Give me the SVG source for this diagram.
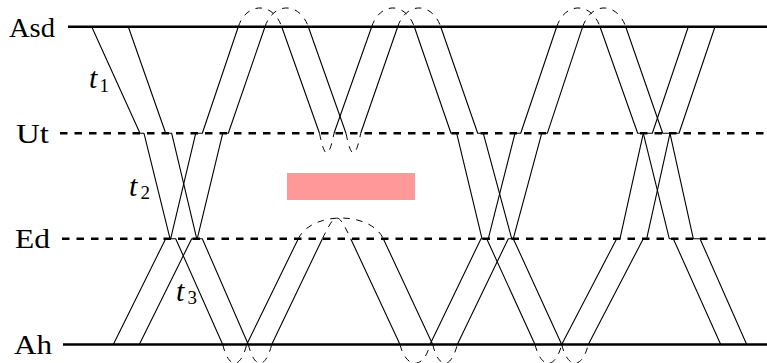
<svg xmlns="http://www.w3.org/2000/svg" width="767" height="363" viewBox="0 0 767 363">
<style>
.lbl{font-family:"Liberation Serif","Times New Roman",serif;font-size:28px;fill:#000}
.it{font-family:"Liberation Serif","Times New Roman",serif;font-style:italic;font-size:30px;fill:#000}
.sub{font-family:"Liberation Serif","Times New Roman",serif;font-size:19px;fill:#000}
.solid{stroke:#000;stroke-width:2.4;fill:none}
.dash{stroke:#000;stroke-width:2.4;fill:none;stroke-dasharray:7.5 7}
.ray{stroke:#000;stroke-width:1.1;fill:none;stroke-linejoin:round}
.arc{stroke:#000;stroke-width:1;fill:none;stroke-dasharray:6.5 6.5}
</style>
<rect width="767" height="363" fill="#fff"/>
<g id="layer-asd">
<line class="solid" x1="68" y1="26.7" x2="767" y2="26.7"/>
<text class="lbl" x="9" y="36.5" textLength="46" lengthAdjust="spacingAndGlyphs">Asd</text>
</g>
<g id="layer-ut">
<line class="dash" x1="60" y1="133.3" x2="767" y2="133.3"/>
<text class="lbl" x="16" y="142.5" textLength="33" lengthAdjust="spacingAndGlyphs">Ut</text>
</g>
<g id="layer-ed">
<line class="dash" x1="62" y1="238.7" x2="767" y2="238.7"/>
<text class="lbl" x="15" y="248" textLength="35" lengthAdjust="spacingAndGlyphs">Ed</text>
</g>
<g id="layer-ah">
<line class="solid" x1="63" y1="344.5" x2="767" y2="344.5"/>
<text class="lbl" x="14" y="354" textLength="38" lengthAdjust="spacingAndGlyphs">Ah</text>
</g>
<g id="block">
<rect x="287" y="173" width="128" height="27" fill="#ff9999"/>
</g>
<g id="connectors">
<path class="ray" d="M91.7,26.7 L140,133.3 L144,133.3 L170,238.7 L175.7,238.7 L222.7,344.5 M246.7,344.5 L298.3,238.7 M383.3,238.7 L432.7,344.5 M457.3,344.5 L508.3,238.7 L513.3,238.7 L541.7,133.3 L547.3,133.3 L582.7,26.7 M625.7,26.7 L662.7,133.3 L670,133.3 L693.3,238.7 L700,238.7 L746.7,344.5"/>
<path class="ray" d="M128.3,26.7 L165.7,133.3 L171.7,133.3 L196.7,238.7 L202.3,238.7 L248.3,344.5 M271.7,344.5 L322.4,238.7 M350.7,238.7 L400,344.5 M430,344.5 L481,238.7 L488.3,238.7 L515,133.3 L520.7,133.3 L556.7,26.7 M600,26.7 L637.7,133.3 L643.3,133.3 L669.3,238.7 L673.3,238.7 L720.7,344.5"/>
<path class="ray" d="M113.3,344.5 L165.7,238.7 L170.7,238.7 L195.7,133.3 L202.3,133.3 L238.3,26.7 M281.7,26.7 L319.5,133.3 M334,133.3 L371.7,26.7 M414.3,26.7 L451,133.3 L456.7,133.3 L482,238.7 L486.7,238.7 L535,344.5 M561.7,344.5 L616.7,238.7 L620,238.7 L643.3,133.3 L652.3,133.3 L688.3,26.7"/>
<path class="ray" d="M139.3,344.5 L191.7,238.7 L197.3,238.7 L222.7,133.3 L228.3,133.3 L265,26.7 M308.3,26.7 L346,133.3 M360.7,133.3 L397.7,26.7 M440.7,26.7 L477.7,133.3 L483.3,133.3 L511.7,238.7 L513.3,238.7 L561.7,344.5 M588.3,344.5 L643.3,238.7 L646.7,238.7 L670,133.3 L679,133.3 L715,26.7"/>
<path class="arc" d="M238.3,26.7 C246.8,1.7 272.8,1.7 281.7,26.7"/>
<path class="arc" d="M265,26.7 C273.5,1.7 299.4,1.7 308.3,26.7"/>
<path class="arc" d="M371.7,26.7 C380.2,1.7 405.4,1.7 414.3,26.7"/>
<path class="arc" d="M397.7,26.7 C406.2,1.7 431.8,1.7 440.7,26.7"/>
<path class="arc" d="M556.7,26.7 C565.2,1.7 591.1,1.7 600,26.7"/>
<path class="arc" d="M582.7,26.7 C591.2,1.7 616.8,1.7 625.7,26.7"/>
<path class="arc" d="M319.5,133.3 C324.7,159.3 328.8,159.3 334,133.3"/>
<path class="arc" d="M346,133.3 C351.2,159.3 355.5,159.3 360.7,133.3"/>
<path class="arc" d="M298.3,238.7 C311.8,211.1 370.3,211.1 383.3,238.7"/>
<path class="arc" d="M322.4,238.7 C335.9,211.1 337.7,211.1 350.7,238.7"/>
<path class="arc" d="M222.7,344.5 C229,369.5 240.4,369.5 246.7,344.5"/>
<path class="arc" d="M248.3,344.5 C254.6,369.5 265.4,369.5 271.7,344.5"/>
<path class="arc" d="M400,344.5 C406.3,369.5 423.7,369.5 430,344.5"/>
<path class="arc" d="M432.7,344.5 C439,369.5 451,369.5 457.3,344.5"/>
<path class="arc" d="M535,344.5 C541.3,369.5 555.4,369.5 561.7,344.5"/>
<path class="arc" d="M561.7,344.5 C568,369.5 582,369.5 588.3,344.5"/>
</g>
<g id="labels">
<text class="it" x="89" y="87.5">t</text><text class="sub" x="99.5" y="92">1</text>
<text class="it" x="129" y="195.5">t</text><text class="sub" x="140.5" y="199">2</text>
<text class="it" x="176" y="300.5">t</text><text class="sub" x="187.5" y="304">3</text>
</g>
</svg>
